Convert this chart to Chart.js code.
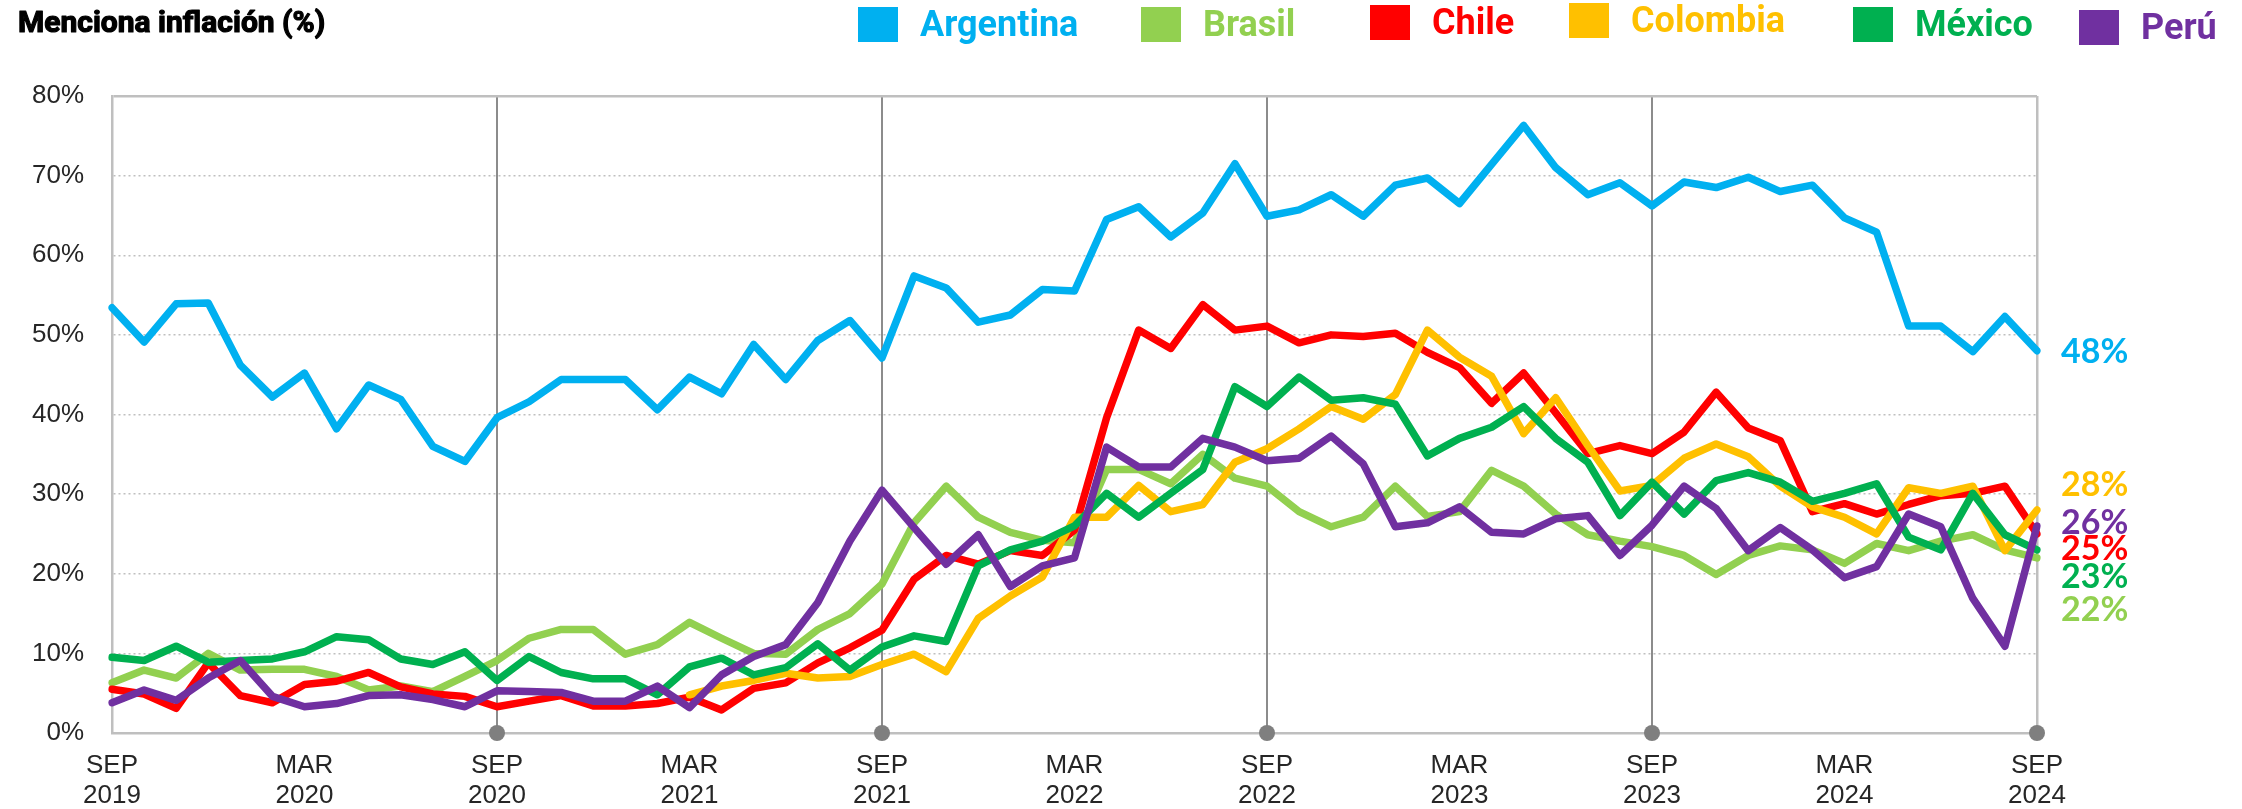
<!DOCTYPE html>
<html lang="es">
<head>
<meta charset="utf-8">
<title>Menciona inflación (%)</title>
<script src="https://cdn.jsdelivr.net/npm/chart.js@4.4.1/dist/chart.umd.min.js"></script>
<style>
  html, body { margin: 0; padding: 0; background: #fff; }
  #wrap { width: 2242px; height: 809px; }
</style>
</head>
<body>
<div id="wrap"><canvas id="chart" width="2242" height="809"></canvas></div>
<script>
// Monthly survey waves, SEP 2019 – SEP 2024
const categories = [
  'SEP 2019', 'OCT 2019', 'NOV 2019', 'DIC 2019',
  'ENE 2020', 'FEB 2020', 'MAR 2020', 'ABR 2020', 'MAY 2020', 'JUN 2020', 'JUL 2020', 'AGO 2020', 'SEP 2020', 'OCT 2020', 'NOV 2020', 'DIC 2020',
  'ENE 2021', 'FEB 2021', 'MAR 2021', 'ABR 2021', 'MAY 2021', 'JUN 2021', 'JUL 2021', 'AGO 2021', 'SEP 2021', 'OCT 2021', 'NOV 2021', 'DIC 2021',
  'ENE 2022', 'FEB 2022', 'MAR 2022', 'ABR 2022', 'MAY 2022', 'JUN 2022', 'JUL 2022', 'AGO 2022', 'SEP 2022', 'OCT 2022', 'NOV 2022', 'DIC 2022',
  'ENE 2023', 'FEB 2023', 'MAR 2023', 'ABR 2023', 'MAY 2023', 'JUN 2023', 'JUL 2023', 'AGO 2023', 'SEP 2023', 'OCT 2023', 'NOV 2023', 'DIC 2023',
  'ENE 2024', 'FEB 2024', 'MAR 2024', 'ABR 2024', 'MAY 2024', 'JUN 2024', 'JUL 2024', 'AGO 2024', 'SEP 2024'
];

const argentina = [
  53.4, 49.1, 53.9, 54.0,
  46.2, 42.2, 45.2, 38.2, 43.7, 41.9, 36.0, 34.1, 39.6, 41.6, 44.4, 44.4,
  44.4, 40.6, 44.7, 42.6, 48.8, 44.4, 49.3, 51.8, 47.1, 57.4, 55.9, 51.6,
  52.5, 55.7, 55.5, 64.5, 66.1, 62.3, 65.3, 71.5, 64.9, 65.7, 67.6, 64.9,
  68.8, 69.7, 66.5, 71.4, 76.3, 71.0, 67.6, 69.1, 66.2, 69.2, 68.5, 69.8,
  68.0, 68.8, 64.7, 62.9, 51.1, 51.1, 47.9, 52.3, 48
];
const brasil = [
  6.3, 7.9, 6.9, 10.0,
  7.9, 8.0, 8.0, 7.1, 5.4, 5.9, 5.2, 7.1, 9.1, 11.9, 13.0, 13.0,
  9.9, 11.1, 13.9, 11.9, 10.0, 9.9, 13.0, 15.0, 18.7, 26.4, 31.0, 27.1,
  25.2, 24.2, 23.9, 33.1, 33.1, 31.3, 35.0, 32.0, 31.0, 27.8, 25.9, 27.1,
  31.0, 27.2, 27.8, 33.0, 31.0, 27.5, 24.9, 24.1, 23.4, 22.3, 19.9, 22.3,
  23.5, 23.0, 21.3, 23.8, 22.9, 24.1, 24.9, 23.0, 22
];
const chile = [
  5.5, 4.9, 3.1, 8.8,
  4.7, 3.8, 6.1, 6.5, 7.6, 5.8, 4.9, 4.6, 3.3, 4.0, 4.7, 3.4,
  3.4, 3.7, 4.5, 2.9, 5.6, 6.3, 8.8, 10.7, 12.9, 19.3, 22.3, 21.2,
  22.9, 22.3, 25.5, 39.6, 50.6, 48.3, 53.8, 50.6, 51.1, 49.0, 50.0, 49.8,
  50.2, 47.8, 45.9, 41.4, 45.2, 40.2, 35.1, 36.1, 35.1, 37.8, 42.8, 38.3,
  36.7, 27.8, 28.8, 27.5, 28.7, 29.8, 30.1, 31.0, 25
];
// Colombia joins the panel in MAR 2021
const colombia = [
  null, null, null, null,
  null, null, null, null, null, null, null, null, null, null, null, null,
  null, null, 4.8, 5.9, 6.6, 7.5, 6.9, 7.1, 8.6, 9.9, 7.7, 14.4,
  17.2, 19.6, 27.1, 27.1, 31.1, 27.8, 28.7, 34.0, 35.7, 38.2, 41.0, 39.4,
  42.5, 50.6, 47.2, 44.8, 37.6, 42.1, 36.1, 30.4, 31.1, 34.5, 36.3, 34.7,
  31.0, 28.4, 27.1, 25.0, 30.8, 30.1, 31.0, 22.9, 28
];
const mexico = [
  9.5, 9.1, 10.9, 8.9,
  9.1, 9.3, 10.2, 12.1, 11.7, 9.3, 8.6, 10.2, 6.6, 9.6, 7.6, 6.8,
  6.8, 4.8, 8.3, 9.4, 7.3, 8.2, 11.2, 7.9, 10.8, 12.2, 11.5, 21.0,
  23.0, 24.1, 26.0, 30.1, 27.1, 30.1, 33.1, 43.5, 41.0, 44.7, 41.8, 42.1,
  41.3, 34.8, 37.0, 38.4, 41.0, 37.0, 34.0, 27.3, 31.5, 27.5, 31.7, 32.7,
  31.5, 29.1, 30.1, 31.3, 24.6, 23.0, 30.1, 24.9, 23
];
const peru = [
  3.8, 5.4, 4.1, 6.9,
  9.1, 4.6, 3.3, 3.7, 4.7, 4.8, 4.2, 3.3, 5.3, 5.2, 5.1, 4.0,
  4.0, 5.9, 3.2, 7.3, 9.6, 11.1, 16.4, 24.1, 30.5, 25.8, 21.2, 24.9,
  18.4, 21.0, 22.0, 35.9, 33.4, 33.4, 37.0, 35.9, 34.2, 34.5, 37.3, 33.8,
  25.9, 26.4, 28.4, 25.2, 25.0, 26.9, 27.3, 22.3, 26.1, 31.0, 28.2, 22.9,
  25.8, 23.0, 19.5, 20.9, 27.5, 25.9, 16.9, 10.9, 26
];

const yTicks = [0, 10, 20, 30, 40, 50, 60, 70, 80];

const colors = {
  Argentina: '#00B0F0',
  Brasil: '#92D050',
  Chile: '#FF0000',
  Colombia: '#FFC000',
  'México': '#00B050',
  'Perú': '#7030A0'
};

// grey marker on the baseline at every September (except the first)
const septMarks = categories.map((c, i) => (i > 0 && c.startsWith('SEP')) ? 0 : null);

function series(label, data) {
  return {
    label,
    data,
    borderColor: colors[label],
    backgroundColor: colors[label],
    borderWidth: 7.5,
    borderJoinStyle: 'round',
    borderCapStyle: 'round',
    pointRadius: 0,
    pointHoverRadius: 0,
    tension: 0,
    fill: false
  };
}

// title + coloured legend across the top row
const headerPlugin = {
  id: 'header',
  afterDraw(chart, args, opts) {
    const ctx = chart.ctx;
    ctx.save();
    ctx.textAlign = 'left';
    ctx.textBaseline = 'alphabetic';
    ctx.fillStyle = '#000000';
    ctx.strokeStyle = '#000000';
    ctx.lineWidth = 1.2;
    ctx.lineJoin = 'round';
    ctx.font = 'bold 30px Roboto';
    ctx.fillText(opts.title, 18, 32);
    ctx.strokeText(opts.title, 18, 32);
    ctx.font = 'bold 36px Roboto';
    opts.items.forEach((name, i) => {
      const x = opts.itemX[i];
      const dy = opts.itemDy[i];
      ctx.fillStyle = colors[name];
      ctx.fillRect(x, 7 + dy, 40, 35);
      ctx.fillText(name, x + 62, 36 + dy);
    });
    ctx.restore();
  }
};

// last value of each country written to the right of the plot
const endLabelPlugin = {
  id: 'endLabels',
  afterDatasetsDraw(chart, args, opts) {
    const ctx = chart.ctx;
    ctx.save();
    ctx.font = 'bold 34px Lato';
    ctx.textAlign = 'left';
    ctx.textBaseline = 'middle';
    chart.data.datasets.forEach((ds, i) => {
      if (!(ds.label in opts.nudge)) return;
      const meta = chart.getDatasetMeta(i);
      const pt = meta.data[meta.data.length - 1];
      const v = ds.data[ds.data.length - 1];
      ctx.fillStyle = ds.borderColor;
      ctx.fillText(Math.round(v) + '%', chart.chartArea.right + 24, pt.y + opts.nudge[ds.label]);
    });
    ctx.restore();
  }
};

const axisFont = { family: "'Liberation Sans', Arial, sans-serif", size: 26, lineHeight: 1.15 };

new Chart(document.getElementById('chart'), {
  type: 'line',
  data: {
    labels: categories,
    // first dataset is painted last, so Perú ends up on top
    datasets: [
      series('Perú', peru),
      series('México', mexico),
      series('Colombia', colombia),
      series('Chile', chile),
      series('Brasil', brasil),
      series('Argentina', argentina),
      {
        label: 'sep',
        data: septMarks,
        showLine: false,
        pointRadius: 8,
        pointHoverRadius: 8,
        pointBackgroundColor: '#7F7F7F',
        pointBorderWidth: 0,
        borderColor: '#7F7F7F',
        clip: false
      }
    ]
  },
  options: {
    responsive: false,
    animation: false,
    devicePixelRatio: 1,
    layout: { padding: { top: 96, right: 205, bottom: 0, left: 0 } },
    plugins: {
      legend: { display: false },
      title: { display: false },
      tooltip: { enabled: false },
      header: {
        title: 'Menciona inflación (%)',
        items: ['Argentina', 'Brasil', 'Chile', 'Colombia', 'México', 'Perú'],
        itemX: [858, 1141, 1370, 1569, 1853, 2079],
        itemDy: [0, 0, -2, -4, 0, 3]
      },
      endLabels: {
        nudge: { Argentina: 1, Colombia: -25, 'Perú': -3, Chile: 15, 'México': 27, Brasil: 52 }
      }
    },
    scales: {
      x: {
        type: 'category',
        offset: false,
        afterFit: s => { s.height = 76; },
        grid: {
          drawTicks: false,
          color: c => {
            if (c.index === categories.length - 1) return '#BFBFBF';
            return (c.index > 0 && c.index % 12 === 0) ? '#8C8C8C' : 'rgba(0,0,0,0)';
          },
          lineWidth: c => (c.index === categories.length - 1 ? 2.5 : 2)
        },
        border: { display: true, color: '#BFBFBF', width: 2.5 },
        ticks: {
          autoSkip: false,
          maxRotation: 0,
          minRotation: 0,
          padding: 18,
          color: '#262626',
          font: axisFont,
          callback: (v, i) => (i % 6 === 0 ? categories[i].split(' ') : '')
        }
      },
      y: {
        min: 0,
        max: 80,
        afterFit: s => { s.width = 112; },
        afterBuildTicks: s => { s.ticks = yTicks.map(v => ({ value: v })); },
        grid: {
          drawTicks: false,
          color: c => (c.tick && c.tick.value === 0 ? 'rgba(0,0,0,0)' : '#BFBFBF'),
          lineWidth: c => (c.tick && c.tick.value === 80 ? 2.5 : 1.5)
        },
        border: {
          display: true,
          color: '#BFBFBF',
          width: 2.5,
          dash: c => (c.tick && c.tick.value === 80 ? [] : [2, 3])
        },
        ticks: {
          padding: 28,
          color: '#262626',
          font: axisFont,
          callback: v => v + '%'
        }
      }
    }
  },
  plugins: [headerPlugin, endLabelPlugin]
});
</script>
</body>
</html>
